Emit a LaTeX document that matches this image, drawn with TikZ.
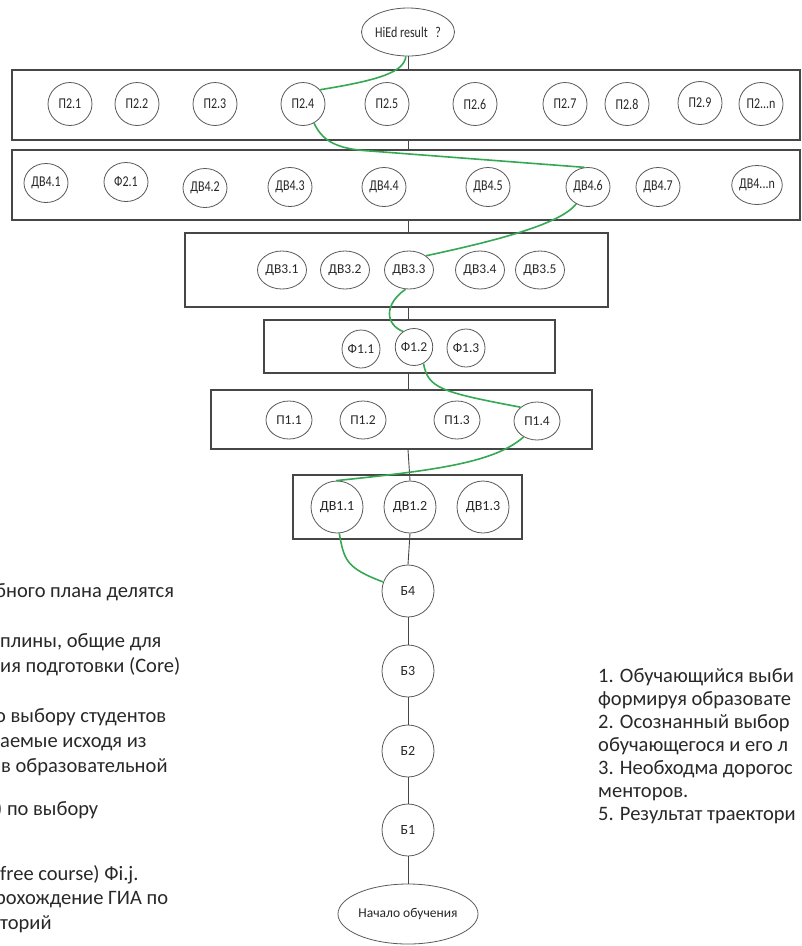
\documentclass[tikz,border=0pt]{standalone}
\usepackage{fontspec}
\setmainfont{Carlito}
\usetikzlibrary{shapes.geometric}
\definecolor{edgegray}{RGB}{70,70,70}
\definecolor{ringgray}{RGB}{90,90,90}
\definecolor{pathgreen}{RGB}{52,168,83}
\definecolor{inkgray}{RGB}{40,40,40}
\newcommand{\narrowlabel}{\fontsize{15}{17}\selectfont\addfontfeature{FakeStretch=0.8}}
\tikzset{
  rowbox/.style={draw=edgegray, line width=1.1pt, fill=white, inner sep=0pt},
  course/.style={ellipse, draw=ringgray, line width=0.8pt, fill=white, inner sep=0pt,
    minimum width=44pt, minimum height=40pt, text=inkgray, font=\narrowlabel},
  midcourse/.style={course, font=\fontsize{13.5}{15}\selectfont},
  bigcourse/.style={course, minimum width=52pt, minimum height=52pt,
    font=\fontsize{14}{16}\selectfont},
  spine/.style={draw=edgegray, line width=0.9pt},
  route/.style={draw=pathgreen, line width=1.6pt},
  note/.style={anchor=base west, inner sep=0pt, text=inkgray,
    font=\fontsize{20.5}{25}\selectfont}
}
\begin{document}
\begin{tikzpicture}[x=1pt,y=-1pt]
\useasboundingbox (0,0) rectangle (802,946);
\clip (0,0) rectangle (802,946);

% year containers
\node[rowbox, minimum width=788pt, minimum height=70pt] (row1) at (406,105) {};
\node[rowbox, minimum width=788pt, minimum height=70pt] (row2) at (406,185) {};
\node[rowbox, minimum width=423pt, minimum height=74pt] (row3) at (396.5,270) {};
\node[rowbox, minimum width=291pt, minimum height=53pt] (row4) at (409.5,346.5) {};
\node[rowbox, minimum width=381pt, minimum height=59pt] (row5) at (401.5,419.5) {};
\node[rowbox, minimum width=229pt, minimum height=64pt] (row6) at (407.5,507) {};

% goal and start
\node[course, minimum width=90pt, minimum height=48pt] (hied) at (408,32) {HiEd result\enspace?};
\node[course, minimum width=124pt, minimum height=60pt, font=\fontsize{13.5}{15}\selectfont] (start) at (408,914) {Начало обучения};

% row 1
\node[course, minimum height=43pt] (p21) at (70,104) {П2.1};
\node[course, minimum height=43pt] (p22) at (137,104) {П2.2};
\node[course, minimum height=43pt] (p23) at (215,104) {П2.3};
\node[course, minimum height=43pt] (p24) at (303,104) {П2.4};
\node[course, minimum height=43pt] (p25) at (387,104) {П2.5};
\node[course, minimum height=43pt] (p26) at (475,104) {П2.6};
\node[course, minimum height=43pt] (p27) at (565,104) {П2.7};
\node[course, minimum height=43pt] (p28) at (627,104) {П2.8};
\node[course, minimum height=43pt] (p29) at (700,103) {П2.9};
\node[course, minimum height=43pt] (p2n) at (761,104) {П2...n};

% row 2
\node[course, minimum height=39pt] (d41) at (46,183) {ДВ4.1};
\node[course, minimum height=39pt] (f21) at (126,182) {Ф2.1};
\node[course, minimum height=39pt] (d42) at (205,188) {ДВ4.2};
\node[course, minimum height=39pt] (d43) at (290,187) {ДВ4.3};
\node[course, minimum height=39pt] (d44) at (384,187) {ДВ4.4};
\node[course, minimum height=39pt] (d45) at (488,187) {ДВ4.5};
\node[course, minimum height=39pt] (d46) at (588,187) {ДВ4.6};
\node[course, minimum height=39pt] (d47) at (658,187) {ДВ4.7};
\node[course, minimum height=39pt] (d4n) at (757,185) {ДВ4...n};

% row 3
\node[midcourse, minimum width=49pt, minimum height=38pt] (d31) at (282,270) {ДВ3.1};
\node[midcourse, minimum width=49pt, minimum height=38pt] (d32) at (345,270) {ДВ3.2};
\node[midcourse, minimum width=49pt, minimum height=38pt] (d33) at (409,270) {ДВ3.3};
\node[midcourse, minimum width=49pt, minimum height=38pt] (d34) at (480,270) {ДВ3.4};
\node[midcourse, minimum width=49pt, minimum height=38pt] (d35) at (540,270) {ДВ3.5};

% row 4
\node[midcourse, minimum width=38pt, minimum height=38pt] (f11) at (361,349) {Ф1.1};
\node[midcourse, minimum width=37pt, minimum height=37pt] (f12) at (414,347) {Ф1.2};
\node[midcourse, minimum width=38pt, minimum height=38pt] (f13) at (466,348) {Ф1.3};

% row 5
\node[midcourse, minimum width=46pt, minimum height=38pt] (p11) at (289,420) {П1.1};
\node[midcourse, minimum width=46pt, minimum height=38pt] (p12) at (363,420) {П1.2};
\node[midcourse, minimum width=46pt, minimum height=38pt] (p13) at (457,420) {П1.3};
\node[midcourse, minimum width=46pt, minimum height=38pt] (p14) at (537,421) {П1.4};

% row 6
\node[bigcourse] (d11) at (337,507) {ДВ1.1};
\node[bigcourse] (d12) at (410,507) {ДВ1.2};
\node[bigcourse] (d13) at (483,507) {ДВ1.3};

% base courses
\node[bigcourse] (b4) at (408,591) {Б4};
\node[bigcourse] (b3) at (408,671) {Б3};
\node[bigcourse] (b2) at (408,751) {Б2};
\node[bigcourse] (b1) at (408,830) {Б1};

% vertical spine
\draw[spine] (hied.south) -- (hied.south |- row1.north);
\draw[spine] (row1.south -| hied.south) -- (row2.north -| hied.south);
\draw[spine] (row2.south -| hied.south) -- (row3.north -| hied.south);
\draw[spine] (row3.south -| hied.south) -- (row4.north -| hied.south);
\draw[spine] (row4.south -| hied.south) -- (row5.north -| hied.south);
\draw[spine] (row5.south -| hied.south) -- (d12.north);
\draw[spine] (d12.south) -- (b4.north);
\draw[spine] (b4.south) -- (b3.north);
\draw[spine] (b3.south) -- (b2.north);
\draw[spine] (b2.south) -- (b1.north);
\draw[spine] (b1.south) -- (start.north);

% chosen learning route
\draw[route] (hied.-95) .. controls (404,72) and (380,80) .. (p24.40);
\draw[route] (p24.-60) .. controls (322,140) and (335,149) .. (370,151) -- (d46.100);
\draw[route] (d46.-125) .. controls (560,225) and (490,242) .. (d33.40);
\draw[route] (d33.-100) .. controls (383,305) and (386,325) .. (f12.125);
\draw[route] (f12.-60) .. controls (428,388) and (440,392) .. (p14.140);
\draw[route] (p14.-130) .. controls (495,462) and (440,470) .. (d11.92);
\draw[route] (d11.-85) .. controls (344,560) and (346,568) .. (b4.160);

% left notes
\node[note] (l1)  at (-5,597) {бного плана делятся};
\node[note] (l2)  at (0,647)  {плины, общие для};
\node[note] (l3)  at (0,672)  {ия подготовки (Core)};
\node[note] (l4)  at (-5,722) {о выбору студентов};
\node[note] (l5)  at (0,747)  {аемые исходя из};
\node[note] (l6)  at (1,772)  {в образовательной};
\node[note] (l7)  at (-4,790) {;};
\node[note] (l8)  at (-4,815) {) по выбору};
\node[note] (l9)  at (0,880)  {free course) Фi.j.};
\node[note] (l10) at (-5,904) {рохождение ГИА по};
\node[note] (l11) at (0,929)  {торий};

% right notes
\node[note] (r1) at (598,682) {1. Обучающийся выби};
\node[note] (r2) at (598,705) {формируя образовате};
\node[note] (r3) at (598,728) {2. Осознанный выбор};
\node[note] (r4) at (598,751) {обучающегося и его л};
\node[note] (r5) at (598,774) {3. Необходма дорогос};
\node[note] (r6) at (598,797) {менторов.};
\node[note] (r7) at (598,820) {5. Результат траектори};
\end{tikzpicture}
\end{document}
